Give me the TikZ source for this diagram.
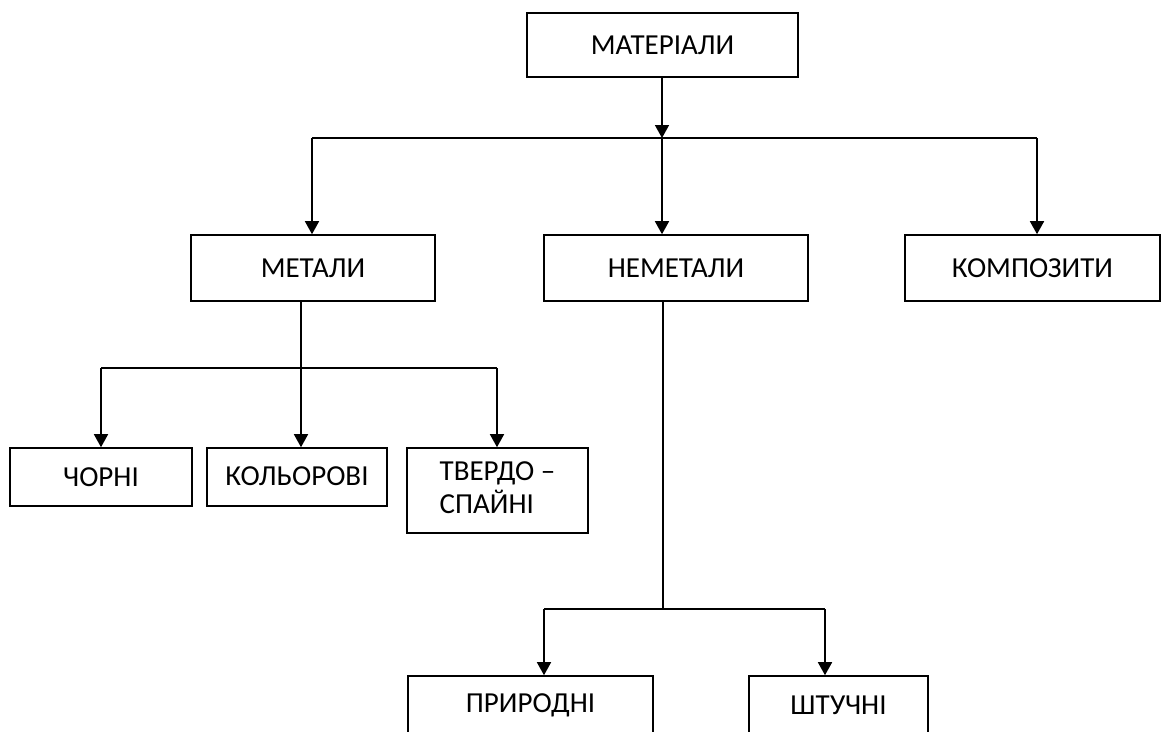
\documentclass[tikz,border=0pt]{standalone}
\usepackage{fontspec}
\setmainfont{Carlito}
\usetikzlibrary{arrows.meta}
\begin{document}
\begin{tikzpicture}[x=1pt,y=-1pt,
  box/.style={draw=black, line width=1.6pt, fill=white, inner sep=0pt,
    font=\fontsize{29}{33}\selectfont, text=black},
  conn/.style={draw=black, line width=1.6pt},
  arr/.style={conn, -{Triangle[length=13pt,width=14pt]}}]
\useasboundingbox (0,0) rectangle (1162,731);
% boxes
\node[box, minimum width=271pt, minimum height=64pt] (mat) at (662.5,45) {МАТЕРІАЛИ};
\node[box, minimum width=244pt, minimum height=66pt] (met) at (313,268) {МЕТАЛИ};
\node[box, minimum width=264pt, minimum height=66pt] (nemet) at (676,268) {НЕМЕТАЛИ};
\node[box, minimum width=255pt, minimum height=66pt] (komp) at (1032.5,268) {КОМПОЗИТИ};
\node[box, minimum width=182pt, minimum height=58pt] (chorni) at (101,477) {\raisebox{-3pt}{ЧОРНІ}};
\node[box, minimum width=180pt, minimum height=58pt] (kolor) at (297,477) {\raisebox{2pt}{КОЛЬОРОВІ}};
\node[box, minimum width=181pt, minimum height=85pt] (tverdo) at (497.5,490.5)
  {\raisebox{-4pt}{\begin{tabular}{@{}l@{}}ТВЕРДО –\\СПАЙНІ\end{tabular}}};
\node[box, minimum width=245pt, minimum height=58pt] (pryr) at (530.5,705) {ПРИРОДНІ};
\node[box, minimum width=179pt, minimum height=58pt] (shtuch) at (838.5,705) {ШТУЧНІ};
% junction coordinates
\coordinate (j1) at (662,138);
\coordinate (j1l) at (312,138);
\coordinate (j1r) at (1037,138);
\coordinate (j2) at (301,368);
\coordinate (j2l) at (101,368);
\coordinate (j2r) at (497,368);
\coordinate (j3) at (663,609);
\coordinate (j3l) at (544,609);
\coordinate (j3r) at (825,609);
% connectors level 1
\draw[arr] (mat.south -| j1) -- (j1);
\draw[conn] (j1l) -- (j1r);
\draw[arr] (j1l) -- (j1l |- met.north);
\draw[arr] (j1) -- (j1 |- nemet.north);
\draw[arr] (j1r) -- (j1r |- komp.north);
% metals
\draw[conn] (met.south -| j2) -- (j2);
\draw[conn] (j2l) -- (j2r);
\draw[arr] (j2l) -- (j2l |- chorni.north);
\draw[arr] (j2) -- (j2 |- kolor.north);
\draw[arr] (j2r) -- (j2r |- tverdo.north);
% non-metals
\draw[conn] (nemet.south -| j3) -- (j3);
\draw[conn] (j3l) -- (j3r);
\draw[arr] (j3l) -- (j3l |- pryr.north);
\draw[arr] (j3r) -- (j3r |- shtuch.north);
\end{tikzpicture}
\end{document}
